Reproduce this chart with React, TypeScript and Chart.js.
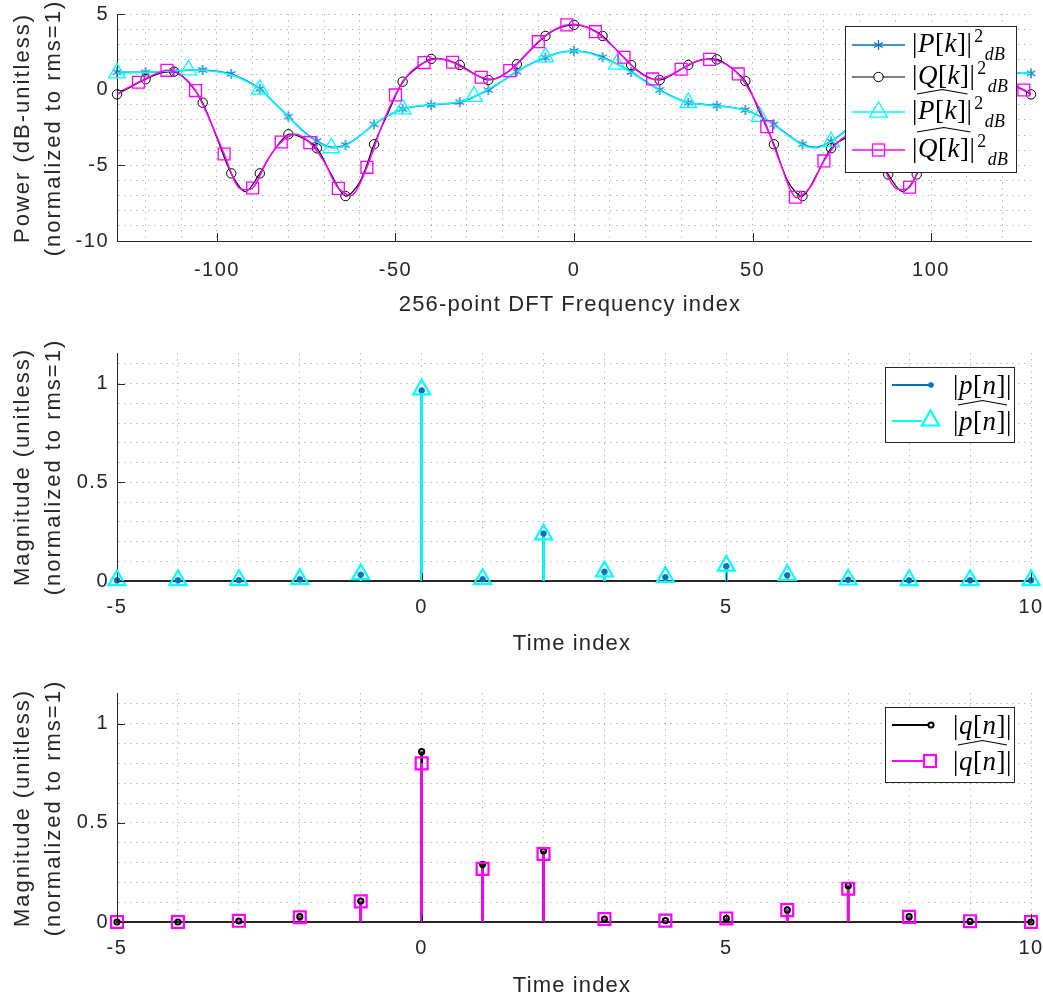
import React, { useEffect, useRef } from 'react';
import { Chart, registerables } from 'chart.js';

Chart.register(...registerables);

// ---------------- Top subplot: 256-point DFT power (dB) ----------------
const K_FREQ = [-128, -124, -120, -116, -112, -108, -104, -100, -96, -92, -88, -84, -80, -76, -72, -68, -64, -60, -56, -52, -48, -44, -40, -36, -32, -28, -24, -20, -16, -12, -8, -4, 0, 4, 8, 12, 16, 20, 24, 28, 32, 36, 40, 44, 48, 52, 56, 60, 64, 68, 72, 76, 80, 84, 88, 92, 96, 100, 104, 108, 112, 116, 120, 124, 128];
const P_DB = [1.15, 1.15, 1.15, 1.18, 1.22, 1.28, 1.3, 1.22, 1.04, 0.62, 0.05, -0.85, -1.78, -2.7, -3.4, -3.8, -3.65, -3.05, -2.29, -1.72, -1.28, -1.1, -1.01, -0.93, -0.83, -0.48, -0.02, 0.58, 1.19, 1.72, 2.12, 2.45, 2.56, 2.45, 2.14, 1.7, 1.17, 0.56, -0.02, -0.5, -0.86, -0.96, -1.06, -1.16, -1.34, -1.75, -2.29, -3.0, -3.61, -3.8, -3.42, -2.7, -1.78, -0.85, 0.05, 0.62, 1.04, 1.22, 1.3, 1.28, 1.22, 1.16, 1.13, 1.1, 1.08];
const P_HAT_DB = [1.1, 1.12, 1.15, 1.2, 1.25, 1.3, 1.28, 1.18, 0.98, 0.58, 0.02, -0.88, -1.8, -2.75, -3.45, -3.85, -3.68, -3.05, -2.28, -1.7, -1.28, -1.08, -0.99, -0.92, -0.8, -0.45, 0.02, 0.6, 1.2, 1.75, 2.15, 2.45, 2.55, 2.42, 2.1, 1.68, 1.14, 0.52, -0.05, -0.52, -0.86, -0.98, -1.08, -1.18, -1.36, -1.78, -2.32, -3.03, -3.65, -3.85, -3.45, -2.75, -1.8, -0.88, 0.02, 0.58, 0.98, 1.18, 1.28, 1.3, 1.25, 1.2, 1.15, 1.1, 1.08];
const Q_DB = [-0.31, 0.2, 0.69, 1.08, 1.19, 0.5, -0.86, -3.2, -5.53, -6.74, -5.53, -4.0, -2.95, -3.2, -3.87, -5.6, -7.03, -6.1, -3.61, -1.5, 0.53, 1.45, 2.03, 1.98, 1.63, 1.05, 0.64, 0.95, 1.68, 2.65, 3.55, 4.1, 4.28, 4.1, 3.55, 2.6, 1.63, 0.92, 0.64, 1.05, 1.63, 1.98, 2.0, 1.45, 0.57, -1.5, -3.61, -6.1, -7.03, -5.6, -3.87, -3.2, -2.95, -4.0, -5.6, -6.74, -5.6, -3.2, -0.86, 0.5, 1.19, 1.08, 0.69, 0.2, -0.31];
const K_FREQ_Q_HAT = [-128, -126, -122, -118, -114, -110, -106, -102, -98, -94, -90, -86, -82, -78, -74, -70, -66, -62, -58, -54, -50, -46, -42, -38, -34, -30, -26, -22, -18, -14, -10, -6, -2, 2, 6, 10, 14, 18, 22, 26, 30, 34, 38, 42, 46, 50, 54, 58, 62, 66, 70, 74, 78, 82, 86, 90, 94, 98, 102, 106, 110, 114, 118, 122, 126, 128];
const Q_HAT_DB = [-0.3, 0.0, 0.49, 0.95, 1.28, 0.95, -0.06, -2.0, -4.25, -6.45, -6.5, -4.7, -3.46, -2.95, -3.5, -4.75, -6.52, -6.95, -5.13, -2.5, -0.35, 1.1, 1.79, 2.05, 1.81, 1.3, 0.82, 0.72, 1.26, 2.2, 3.17, 3.9, 4.28, 4.25, 3.83, 3.05, 2.14, 1.2, 0.71, 0.85, 1.35, 1.85, 2.0, 1.75, 1.04, -0.4, -2.44, -5.0, -7.11, -6.5, -4.71, -3.45, -2.95, -3.4, -4.8, -6.5, -6.45, -4.3, -2.0, -0.06, 0.95, 1.28, 0.95, 0.49, -0.02, -0.25];
const FREQ_TICKS = [-100, -50, 0, 50, 100];
const FREQ_GRID = [-120, -110, -100, -90, -80, -70, -60, -50, -40, -30, -20, -10, 0, 10, 20, 30, 40, 50, 60, 70, 80, 90, 100, 110, 120];
const DB_TICKS = [-10, -5, 0, 5];
const DB_GRID = [-10, -9, -8, -7, -6, -5, -4, -3, -2, -1, 0, 1, 2, 3, 4, 5];

// ---------------- Middle / bottom subplots: time-domain magnitudes ----------------
const TIME_IDX = [-5, -4, -3, -2, -1, 0, 1, 2, 3, 4, 5, 6, 7, 8, 9, 10];
const P_MAG = [0.003, 0.003, 0.004, 0.008, 0.032, 0.965, 0.009, 0.24, 0.047, 0.019, 0.075, 0.029, 0.006, 0.003, 0.003, 0.003];
const P_HAT_MAG = [0.004, 0.004, 0.005, 0.01, 0.034, 0.97, 0.01, 0.236, 0.048, 0.02, 0.077, 0.03, 0.007, 0.004, 0.004, 0.004];
const Q_MAG = [0.0, 0.0, 0.005, 0.027, 0.106, 0.859, 0.291, 0.358, 0.015, 0.007, 0.018, 0.061, 0.183, 0.027, 0.003, 0.0];
const Q_HAT_MAG = [0.0, 0.0, 0.006, 0.024, 0.104, 0.8, 0.268, 0.343, 0.015, 0.007, 0.018, 0.06, 0.168, 0.026, 0.004, 0.0];
const TIME_TICKS = [-5, 0, 5, 10];
const TIME_GRID = [-5, -4, -3, -2, -1, 0, 1, 2, 3, 4, 5, 6, 7, 8, 9, 10];
const MAG_TICKS = [0, 0.5, 1];
const MAG_GRID = [0, 0.1, 0.2, 0.3, 0.4, 0.5, 0.6, 0.7, 0.8, 0.9, 1.0, 1.1];

// ---------------- Styles ----------------
const SANS = "'Liberation Sans', Arial, Helvetica, sans-serif";
const SERIF = "'Liberation Serif', 'Times New Roman', serif";
const AXIS = '#262626';
const GRID = 'rgba(60,60,60,0.35)';
const BLUE = '#0072BD';
const CYAN = '#00FFFF';
const MAGENTA = '#FF00FF';
const BLACK = '#000000';
const NONE = 'rgba(0,0,0,0)';

const spacingPlugin = {
  id: 'letterSpacing',
  beforeUpdate(chart: any) { chart.ctx.letterSpacing = '1.5px'; },
  beforeDraw(chart: any) { chart.ctx.letterSpacing = '1.5px'; },
};

const innerTicks = {
  id: 'innerTicks',
  afterDraw(chart: any, _a: any, opts: any) {
    const { ctx, chartArea, scales } = chart;
    ctx.save();
    ctx.strokeStyle = AXIS;
    ctx.lineWidth = 1;
    ctx.setLineDash([]);
    ctx.beginPath();
    for (const v of opts.x || []) {
      const px = Math.round(scales.x.getPixelForValue(v)) + 0.5;
      ctx.moveTo(px, chartArea.bottom);
      ctx.lineTo(px, chartArea.bottom - opts.len);
    }
    for (const v of opts.y || []) {
      const py = Math.round(scales.y.getPixelForValue(v)) + 0.5;
      ctx.moveTo(chartArea.left, py);
      ctx.lineTo(chartArea.left + opts.len, py);
    }
    ctx.stroke();
    ctx.restore();
  },
};

type AxisCfg = { min: number; max: number; grid: number[]; ticks: number[] };

const isMajor = (list: number[], v: number) => list.some((m) => Math.abs(m - v) < 1e-9);

function buildOptions(x: AxisCfg, y: AxisCfg, padTop: number, xAxisH: number, xPad: number, xBorderW: number): any {
  return {
    responsive: false,
    animation: false,
    events: [],
    layout: { padding: { top: padTop, right: 12, left: 0, bottom: 0 } },
    plugins: {
      legend: { display: false },
      tooltip: { enabled: false },
      innerTicks: { x: x.ticks, y: y.ticks, len: 8 },
    },
    scales: {
      x: {
        type: 'linear',
        min: x.min,
        max: x.max,
        offset: false,
        afterBuildTicks: (ax: any) => { ax.ticks = x.grid.map((v) => ({ value: v })); },
        afterFit: (ax: any) => { ax.height = xAxisH; ax.paddingLeft = 0; ax.paddingRight = 0; },
        grid: { color: GRID, lineWidth: 1, drawTicks: false, offset: false },
        border: { display: true, color: AXIS, width: xBorderW, dash: [1.5, 4.5] },
        ticks: {
          autoSkip: false, maxRotation: 0, minRotation: 0, padding: xPad, color: AXIS,
          font: { family: SANS, size: 20 },
          callback: (v: number) => (isMajor(x.ticks, v) ? String(v) : ''),
        },
      },
      y: {
        type: 'linear',
        min: y.min,
        max: y.max,
        offset: false,
        afterBuildTicks: (ax: any) => { ax.ticks = y.grid.map((v) => ({ value: v })); },
        afterFit: (ax: any) => { ax.width = 117; ax.paddingTop = 0; ax.paddingBottom = 0; },
        grid: { color: GRID, lineWidth: 1, drawTicks: false, offset: false },
        border: { display: true, color: AXIS, width: 1, dash: [1.5, 4.5] },
        ticks: {
          autoSkip: false, padding: 8, color: AXIS,
          font: { family: SANS, size: 20 },
          callback: (v: number) => (isMajor(y.ticks, v) ? String(v) : ''),
        },
      },
    },
  };
}

function makeAsterisk(color: string, size: number, lw: number) {
  const c = document.createElement('canvas');
  c.width = size + 2;
  c.height = size + 2;
  const g = c.getContext('2d')!;
  const cx = c.width / 2, cy = c.height / 2, r = size / 2;
  g.strokeStyle = color;
  g.lineWidth = lw;
  g.beginPath();
  for (const a of [90, 30, 150]) {
    const rad = (a * Math.PI) / 180;
    g.moveTo(cx - r * Math.cos(rad), cy - r * Math.sin(rad));
    g.lineTo(cx + r * Math.cos(rad), cy + r * Math.sin(rad));
  }
  g.stroke();
  return c;
}

const pts = (xs: number[], ys: number[]) => xs.map((x, i) => ({ x, y: ys[i] }));

function curve(xs: number[], ys: number[], color: string, lw: number, isMarker: (k: number) => boolean, style: any, r: number, mlw: number, order: number) {
  return {
    type: 'line',
    data: pts(xs, ys),
    borderColor: color,
    borderWidth: lw,
    tension: 0.3,
    pointRadius: (c: any) => (c.raw && isMarker(c.raw.x) ? r : 0),
    pointStyle: style,
    pointBorderColor: color,
    pointBackgroundColor: NONE,
    pointBorderWidth: mlw,
    clip: false,
    order,
  };
}

function stems(xs: number[], ys: number[], color: string, order: number) {
  return { type: 'bar', data: pts(xs, ys), backgroundColor: color, barThickness: 2, grouped: false, order };
}

function markers(xs: number[], ys: number[], color: string, style: string, r: number, lw: number, fill: string, order: number) {
  return {
    type: 'line', showLine: false, data: pts(xs, ys), pointStyle: style, pointRadius: r,
    pointBorderColor: color, pointBackgroundColor: fill, pointBorderWidth: lw, clip: false, order,
  };
}

function Hat({ children }: { children: any }) {
  return (
    <span style={{ position: 'relative', display: 'inline-block' }}>
      {children}
      <svg style={{ position: 'absolute', left: -1, top: -8, width: 'calc(100% + 2px)', height: 5, overflow: 'visible' }} viewBox="0 0 100 5" preserveAspectRatio="none">
        <polyline points="0,5 50,0.5 100,5" fill="none" stroke="#000" strokeWidth={1.1} vectorEffect="non-scaling-stroke" />
      </svg>
    </span>
  );
}

const Sup = ({ children }: { children: any }) => (
  <span style={{ fontSize: '0.66em', position: 'relative', top: '-0.55em', marginLeft: 2 }}>{children}</span>
);
const Sub = ({ children }: { children: any }) => (
  <span style={{ fontSize: '0.66em', position: 'relative', top: '0.45em', fontStyle: 'italic', marginLeft: 1 }}>{children}</span>
);

function LegText({ left, cy, children }: { left: number; cy: number; children: any }) {
  return (
    <div style={{ position: 'absolute', left, top: cy - 15, fontFamily: SERIF, fontSize: 27, lineHeight: '27px', letterSpacing: '0.5px', color: '#000', whiteSpace: 'nowrap' }}>
      {children}
    </div>
  );
}

const tri = (cx: number, cy: number, r: number) =>
  `${cx},${cy - r} ${cx + r * 0.866},${cy + r / 2} ${cx - r * 0.866},${cy + r / 2}`;

export default function App() {
  const topRef = useRef<HTMLCanvasElement>(null);
  const midRef = useRef<HTMLCanvasElement>(null);
  const botRef = useRef<HTMLCanvasElement>(null);

  useEffect(() => {
    const star = makeAsterisk(BLUE, 10, 1.3);
    const topChart = new Chart(topRef.current!, {
      type: 'line',
      data: {
        datasets: [
          curve(K_FREQ, P_DB, BLUE, 1.5, (k) => k % 8 === 0, star, 5, 1.3, 4),
          curve(K_FREQ, Q_DB, BLACK, 1.2, (k) => k % 8 === 0, 'circle', 4.7, 1, 3),
          curve(K_FREQ, P_HAT_DB, CYAN, 1.5, (k) => (k + 128) % 20 === 0, 'triangle', 9.6, 1.3, 2),
          curve(K_FREQ_Q_HAT, Q_HAT_DB, MAGENTA, 1.5, (k) => (k + 122) % 8 === 0, 'rect', 8.4, 1.3, 1),
        ] as any,
      },
      options: buildOptions(
        { min: -128, max: 128, grid: FREQ_GRID, ticks: FREQ_TICKS },
        { min: -10, max: 5, grid: DB_GRID, ticks: DB_TICKS },
        14, 79, 17, 1,
      ),
      plugins: [spacingPlugin, innerTicks],
    } as any);

    const midChart = new Chart(midRef.current!, {
      type: 'line',
      data: {
        datasets: [
          stems(TIME_IDX, P_MAG, BLUE, 4),
          stems(TIME_IDX, P_HAT_MAG, CYAN, 3),
          markers(TIME_IDX, P_MAG, BLUE, 'circle', 2.8, 1, BLUE, 2),
          markers(TIME_IDX, P_HAT_MAG, CYAN, 'triangle', 9.8, 2.2, NONE, 1),
        ] as any,
      },
      options: buildOptions(
        { min: -5, max: 10, grid: TIME_GRID, ticks: TIME_TICKS },
        { min: 0, max: 1.155, grid: MAG_GRID, ticks: MAG_TICKS },
        23, 89, 14, 2,
      ),
      plugins: [spacingPlugin, innerTicks],
    } as any);

    const botChart = new Chart(botRef.current!, {
      type: 'line',
      data: {
        datasets: [
          stems(TIME_IDX, Q_MAG, BLACK, 4),
          stems(TIME_IDX, Q_HAT_MAG, MAGENTA, 3),
          markers(TIME_IDX, Q_MAG, BLACK, 'circle', 2.6, 2, NONE, 2),
          markers(TIME_IDX, Q_HAT_MAG, MAGENTA, 'rect', 8.4, 2.2, NONE, 1),
        ] as any,
      },
      options: buildOptions(
        { min: -5, max: 10, grid: TIME_GRID, ticks: TIME_TICKS },
        { min: 0, max: 1.155, grid: MAG_GRID, ticks: MAG_TICKS },
        23, 76, 14, 2,
      ),
      plugins: [spacingPlugin, innerTicks],
    } as any);

    return () => {
      topChart.destroy();
      midChart.destroy();
      botChart.destroy();
    };
  }, []);

  const title: any = {
    position: 'absolute', fontFamily: SANS, fontSize: 22, lineHeight: '26px', color: AXIS,
    letterSpacing: '1.15px', whiteSpace: 'nowrap', transform: 'translate(-50%,-50%)',
  };
  const vtitle: any = { ...title, letterSpacing: '2px', transform: 'translate(-50%,-50%) rotate(-90deg)' };
  const legBox: any = { position: 'absolute', background: '#fff', border: `1px solid ${AXIS}`, boxSizing: 'border-box' };

  return (
    <div style={{ position: 'absolute', left: 0, top: 0, width: 1043, height: 998, background: '#fff', overflow: 'hidden' }}>
      <canvas ref={topRef} width={1043} height={320} style={{ position: 'absolute', left: 0, top: 0 }} />
      <canvas ref={midRef} width={1043} height={340} style={{ position: 'absolute', left: 0, top: 330 }} />
      <canvas ref={botRef} width={1043} height={328} style={{ position: 'absolute', left: 0, top: 670 }} />

      {/* axis titles */}
      <div style={{ ...title, left: 570, top: 304 }}>256-point DFT Frequency index</div>
      <div style={{ ...title, left: 572, top: 643 }}>Time index</div>
      <div style={{ ...title, left: 572, top: 985 }}>Time index</div>
      <div style={{ ...vtitle, left: 22, top: 127.5 }}>Power (dB-unitless)</div>
      <div style={{ ...vtitle, left: 53, top: 127.5 }}>(normalized to rms=1)</div>
      <div style={{ ...vtitle, left: 22, top: 467 }}>Magnitude (unitless)</div>
      <div style={{ ...vtitle, left: 53, top: 467 }}>(normalized to rms=1)</div>
      <div style={{ ...vtitle, left: 22, top: 807.5 }}>Magnitude (unitless)</div>
      <div style={{ ...vtitle, left: 53, top: 807.5 }}>(normalized to rms=1)</div>

      {/* legend boxes */}
      <div style={{ ...legBox, left: 845, top: 26, width: 172, height: 147 }} />
      <div style={{ ...legBox, left: 885, top: 367, width: 130, height: 76 }} />
      <div style={{ ...legBox, left: 885, top: 707, width: 130, height: 76 }} />

      {/* legend glyphs */}
      <svg width={1043} height={998} style={{ position: 'absolute', left: 0, top: 0, pointerEvents: 'none' }}>
        <line x1={852} y1={45} x2={905} y2={45} stroke={BLUE} strokeWidth={1.5} />
        <g stroke={BLUE} strokeWidth={1.3}>
          <line x1={878.5} y1={40} x2={878.5} y2={50} />
          <line x1={874.2} y1={42.5} x2={882.8} y2={47.5} />
          <line x1={874.2} y1={47.5} x2={882.8} y2={42.5} />
        </g>
        <line x1={852} y1={77} x2={905} y2={77} stroke={BLACK} strokeWidth={1.2} />
        <circle cx={878.5} cy={77} r={4.7} fill="#fff" stroke={BLACK} strokeWidth={1} />
        <line x1={852} y1={112} x2={905} y2={112} stroke={CYAN} strokeWidth={1.5} />
        <polygon points={tri(878.5, 112, 10.3)} fill="none" stroke={CYAN} strokeWidth={1.3} />
        <line x1={852} y1={150} x2={905} y2={150} stroke={MAGENTA} strokeWidth={1.5} />
        <rect x={872.5} y={144} width={12} height={12} fill="none" stroke={MAGENTA} strokeWidth={1.3} />

        <line x1={892} y1={385} x2={931} y2={385} stroke={BLUE} strokeWidth={2} />
        <circle cx={931} cy={385} r={2.8} fill={BLUE} />
        <line x1={892} y1={421} x2={922} y2={421} stroke={CYAN} strokeWidth={2} />
        <polygon points={tri(930.5, 420.5, 10)} fill="none" stroke={CYAN} strokeWidth={2.2} />

        <line x1={892} y1={725} x2={928} y2={725} stroke={BLACK} strokeWidth={2} />
        <circle cx={931} cy={725} r={2.6} fill="none" stroke={BLACK} strokeWidth={2} />
        <line x1={892} y1={761} x2={924} y2={761} stroke={MAGENTA} strokeWidth={2} />
        <rect x={924} y={755} width={12} height={12} fill="none" stroke={MAGENTA} strokeWidth={2.2} />
      </svg>

      {/* legend texts */}
      <LegText left={912} cy={45}>|<i>P</i>[<i>k</i>]|<Sup>2</Sup><Sub>dB</Sub></LegText>
      <LegText left={912} cy={77}>|<i>Q</i>[<i>k</i>]|<Sup>2</Sup><Sub>dB</Sub></LegText>
      <LegText left={912} cy={112}>|<Hat><i>P</i>[<i>k</i>]</Hat>|<Sup>2</Sup><Sub>dB</Sub></LegText>
      <LegText left={912} cy={150}>|<Hat><i>Q</i>[<i>k</i>]</Hat>|<Sup>2</Sup><Sub>dB</Sub></LegText>

      <LegText left={953} cy={387}>|<i>p</i>[<i>n</i>]|</LegText>
      <LegText left={953} cy={423}>|<Hat><i>p</i>[<i>n</i>]</Hat>|</LegText>
      <LegText left={953} cy={727}>|<i>q</i>[<i>n</i>]|</LegText>
      <LegText left={953} cy={763}>|<Hat><i>q</i>[<i>n</i>]</Hat>|</LegText>
    </div>
  );
}
